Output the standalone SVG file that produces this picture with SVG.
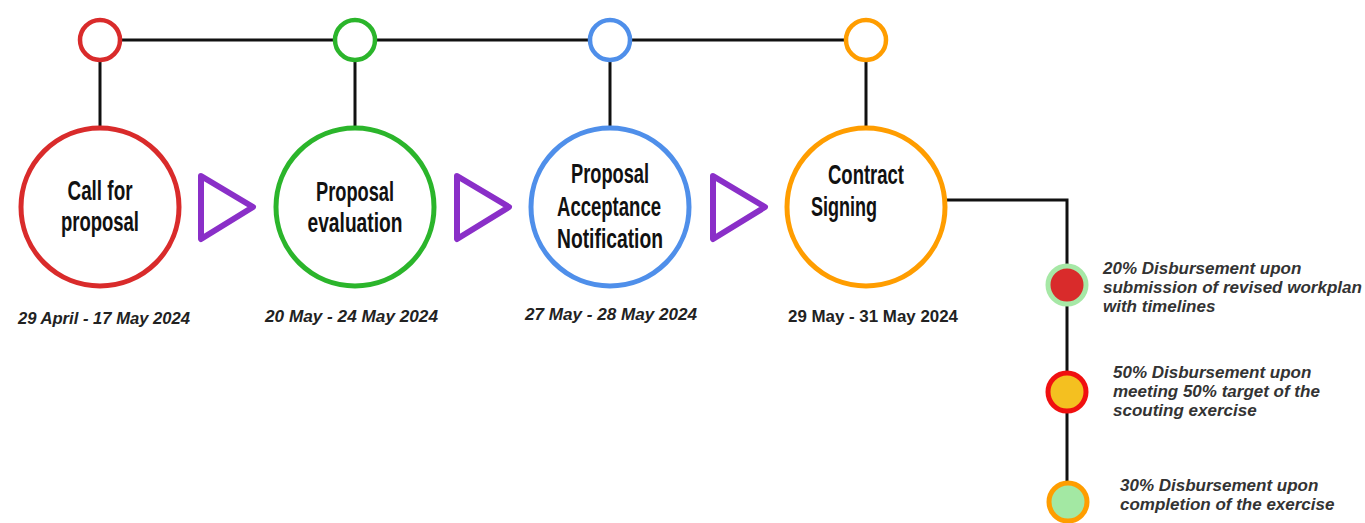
<svg xmlns="http://www.w3.org/2000/svg" width="1365" height="523" viewBox="0 0 1365 523">
<style>
.ln{stroke:#111;stroke-width:3;fill:none}
.ring{fill:#fff;stroke-width:4.5}
.big{fill:#fff;stroke-width:5}
.tri{fill:none;stroke:#8a2fc8;stroke-width:6;stroke-linejoin:round}
.t{font-family:"Liberation Sans",Arial,sans-serif;font-weight:bold;font-size:27px;fill:#111;text-anchor:middle}
.d{font-family:"Liberation Sans",Arial,sans-serif;font-weight:bold;font-style:italic;font-size:16px;fill:#222}
.d2{font-family:"Liberation Sans",Arial,sans-serif;font-weight:bold;font-size:16px;fill:#222}
.m{font-family:"Liberation Sans",Arial,sans-serif;font-weight:bold;font-style:italic;font-size:17px;fill:#333}
</style>
<rect width="1365" height="523" fill="#fff"/>
<g id="connectors">
<line class="ln" x1="120" y1="40" x2="846" y2="40"/>
<line class="ln" x1="100" y1="60" x2="100" y2="126"/>
<line class="ln" x1="355" y1="60" x2="355" y2="126"/>
<line class="ln" x1="610" y1="60" x2="610" y2="126"/>
<line class="ln" x1="866" y1="60" x2="866" y2="126"/>
<polyline class="ln" points="945,200 1067,200 1067,523"/>
<polygon class="tri" points="201,176 253,207 201,239"/>
<polygon class="tri" points="457,176 509,207 457,239"/>
<polygon class="tri" points="713,176 765,207 713,239"/>
</g>
<g id="top-markers">
<circle class="ring" cx="100" cy="40" r="20" stroke="#d92b2b"/>
<circle class="ring" cx="355" cy="40" r="20" stroke="#2bb52b"/>
<circle class="ring" cx="610" cy="40" r="20" stroke="#4f8fea"/>
<circle class="ring" cx="866" cy="40" r="20" stroke="#ff9d00"/>
</g>
<g id="node-call">
<circle class="big" cx="100" cy="207" r="79" stroke="#d92b2b"/>
<text class="t" x="100" y="200" textLength="65" lengthAdjust="spacingAndGlyphs">Call for</text>
<text class="t" x="100" y="231" textLength="78" lengthAdjust="spacingAndGlyphs">proposal</text>
<text class="d" x="18" y="324" textLength="172" lengthAdjust="spacingAndGlyphs">29 April - 17 May 2024</text>
</g>
<g id="node-evaluation">
<circle class="big" cx="355" cy="207" r="79" stroke="#2bb52b"/>
<text class="t" x="355" y="201" textLength="78" lengthAdjust="spacingAndGlyphs">Proposal</text>
<text class="t" x="355" y="232" textLength="95" lengthAdjust="spacingAndGlyphs">evaluation</text>
<text class="d" x="265" y="322" textLength="173" lengthAdjust="spacingAndGlyphs">20 May - 24 May 2024</text>
</g>
<g id="node-acceptance">
<circle class="big" cx="610" cy="207" r="79" stroke="#4f8fea"/>
<text class="t" x="610" y="183" textLength="78" lengthAdjust="spacingAndGlyphs">Proposal</text>
<text class="t" x="609" y="216" textLength="104" lengthAdjust="spacingAndGlyphs">Acceptance</text>
<text class="t" x="610" y="248" textLength="106" lengthAdjust="spacingAndGlyphs">Notification</text>
<text class="d" x="525" y="320" textLength="172" lengthAdjust="spacingAndGlyphs">27 May - 28 May 2024</text>
</g>
<g id="node-contract">
<circle class="big" cx="866" cy="207" r="79" stroke="#ff9d00"/>
<text class="t" x="866" y="184" textLength="76" lengthAdjust="spacingAndGlyphs">Contract</text>
<text class="t" x="844" y="216" textLength="66" lengthAdjust="spacingAndGlyphs">Signing</text>
<text class="d2" x="788" y="322" textLength="170" lengthAdjust="spacingAndGlyphs">29 May - 31 May 2024</text>
</g>
<g id="milestone-20">
<circle cx="1067" cy="285" r="19" fill="#d92b2b" stroke="#a6e8a6" stroke-width="5"/>
<text class="m" x="1103" y="274">20% Disbursement upon</text>
<text class="m" x="1103" y="293">submission of revised workplan</text>
<text class="m" x="1103" y="312">with timelines</text>
</g>
<g id="milestone-50">
<circle cx="1067" cy="392" r="19" fill="#f4c020" stroke="#f01010" stroke-width="5"/>
<text class="m" x="1113" y="378">50% Disbursement upon</text>
<text class="m" x="1113" y="397">meeting 50% target of the</text>
<text class="m" x="1113" y="416">scouting exercise</text>
</g>
<g id="milestone-30">
<circle cx="1068" cy="502" r="19" fill="#a3e8a3" stroke="#ff9d00" stroke-width="5"/>
<text class="m" x="1120" y="491">30% Disbursement upon</text>
<text class="m" x="1120" y="510">completion of the exercise</text>
</g>
</svg>
